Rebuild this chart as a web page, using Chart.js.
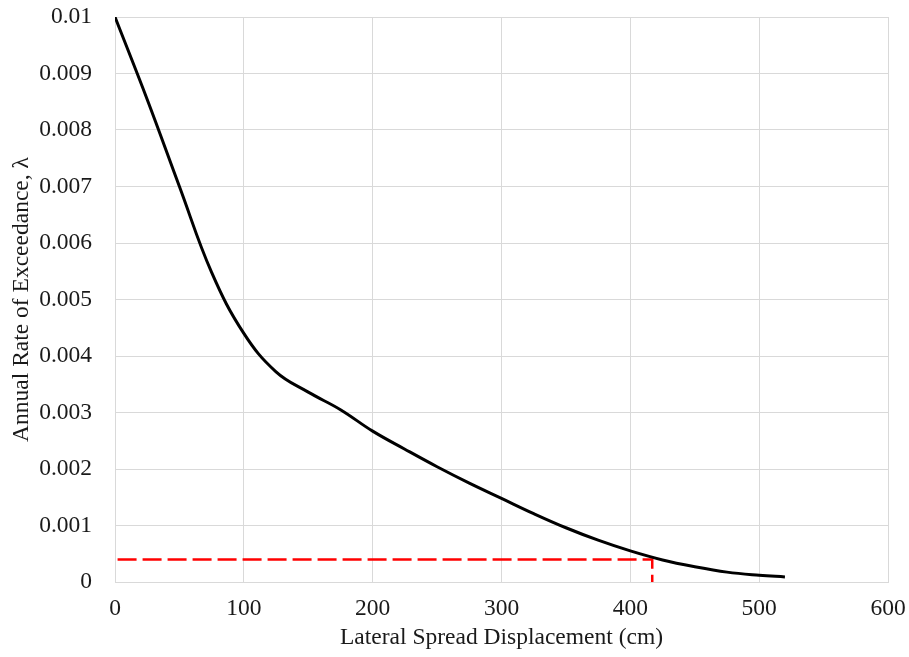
<!DOCTYPE html>
<html>
<head>
<meta charset="utf-8">
<script src="https://cdn.jsdelivr.net/npm/chart.js@4/dist/chart.umd.min.js"></script>
<style>
  html, body { margin: 0; padding: 0; background: #fff; }
  #wrap { width: 909px; height: 657px; position: relative; }
</style>
</head>
<body>
<div id="wrap"><canvas id="c"></canvas></div>
<script>
// Hazard curve: lateral spread displacement (cm) vs annual rate of exceedance
const displacementCm = [0, 25, 50, 75, 100, 125, 150, 175, 200, 225, 250, 275, 300, 325, 350, 375, 400, 425, 450, 475, 500, 520];
const annualRate = [0.0100, 0.00854, 0.0070, 0.00548, 0.0044, 0.00372, 0.00336, 0.00305, 0.00267, 0.00235, 0.00204, 0.00175, 0.00148, 0.00121, 0.00096, 0.00074, 0.00055, 0.00039, 0.00027, 0.000175, 0.00012, 0.00009];

// Design point read-off (red dashed guide)
const guideX = [2, 417, 417];
const guideY = [0.0004, 0.0004, 0];

const xTicks = [0, 100, 200, 300, 400, 500, 600];
const yTicks = [0, 0.001, 0.002, 0.003, 0.004, 0.005, 0.006, 0.007, 0.008, 0.009, 0.01];

const curvePts = displacementCm.map((x, i) => ({ x: x, y: annualRate[i] }));
const guidePts = guideX.map((x, i) => ({ x: x, y: guideY[i] }));

const tickFont = { family: 'Liberation Serif', size: 23.5 };
const gridColor = '#d9d9d9';

function zeroPad(s) { s.paddingTop = 0; s.paddingBottom = 0; s.paddingLeft = 0; s.paddingRight = 0; }

new Chart(document.getElementById('c'), {
  type: 'line',
  data: {
    datasets: [
      {
        data: curvePts,
        borderColor: '#000000',
        borderWidth: 3,
        pointRadius: 0,
        tension: 0.4,
        fill: false
      },
      {
        data: guidePts,
        borderColor: '#ff0000',
        borderWidth: 2.5,
        borderDash: [19, 6],
        pointRadius: 0,
        tension: 0,
        fill: false
      }
    ]
  },
  options: {
    responsive: true,
    maintainAspectRatio: false,
    animation: false,
    layout: { padding: { top: 17, right: 21, bottom: 0, left: 0 } },
    plugins: { legend: { display: false }, tooltip: { enabled: false } },
    scales: {
      x: {
        type: 'linear',
        min: 0,
        max: 600,
        afterBuildTicks: (s) => { s.ticks = xTicks.map(v => ({ value: v })); },
        afterFit: (s) => { s.height = 75; zeroPad(s); },
        grid: { color: gridColor, lineWidth: 1, drawTicks: false },
        border: { color: gridColor, width: 1 },
        ticks: { font: tickFont, color: '#1a1a1a', padding: 13, maxRotation: 0 },
        title: {
          display: true,
          text: 'Lateral Spread Displacement (cm)',
          font: tickFont,
          color: '#1a1a1a',
          padding: { top: 0, bottom: 5 }
        }
      },
      y: {
        type: 'linear',
        min: 0,
        max: 0.01,
        afterBuildTicks: (s) => { s.ticks = yTicks.map(v => ({ value: v })); },
        afterFit: (s) => { s.width = 115; zeroPad(s); },
        grid: { color: gridColor, lineWidth: 1, drawTicks: false },
        border: { color: gridColor, width: 1 },
        ticks: {
          font: tickFont,
          color: '#1a1a1a',
          padding: 23,
          callback: (v) => v === 0 ? '0' : String(+v.toFixed(3))
        },
        title: {
          display: true,
          text: 'Annual Rate of Exceedance, λ',
          font: tickFont,
          color: '#1a1a1a',
          padding: { top: 8, bottom: 0 }
        }
      }
    }
  }
});
</script>
</body>
</html>
